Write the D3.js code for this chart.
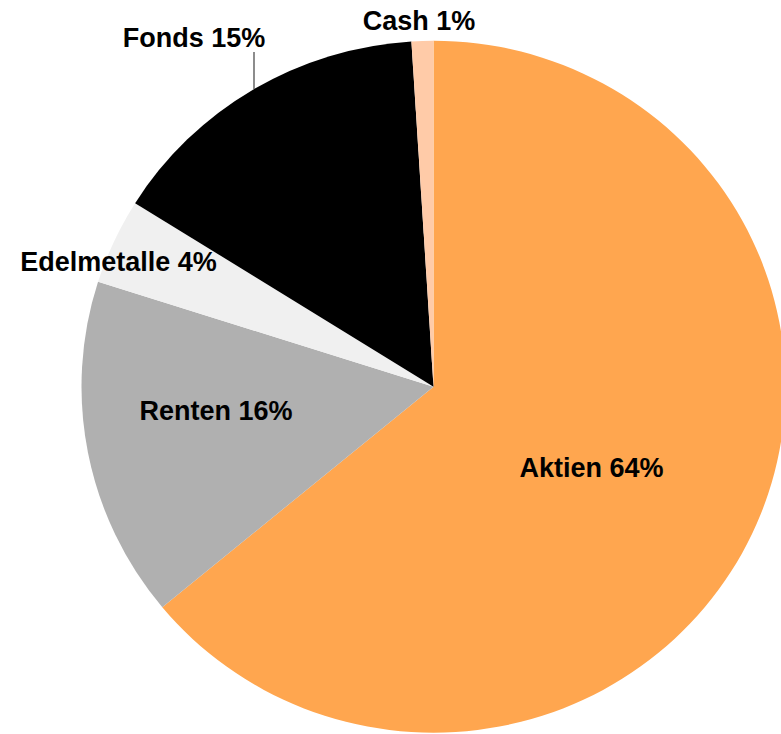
<!DOCTYPE html>
<html>
<head>
<meta charset="utf-8">
<script src="https://cdn.jsdelivr.net/npm/d3@7"></script>
<style>
  html, body { margin: 0; padding: 0; background: #fff; }
  svg { display: block; }
</style>
</head>
<body>
<svg id="chart"></svg>
<script>
// Data
const categories = ["Aktien", "Renten", "Edelmetalle", "Fonds", "Cash"];
const values = [64.0, 15.9, 4.0, 15.1, 1.0];
const labels = ["Aktien 64%", "Renten 16%", "Edelmetalle 4%", "Fonds 15%", "Cash 1%"];

const colors = ["#FFA64F", "#B0B0B0", "#F0F0F0", "#000000", "#FFCBA8"];

const W = 781, H = 734;
const cx = 433.5, cy = 386.7;
const R = 352, ry = 346;

// label anchor points (centre x, baseline y), as Excel placed them
const labelPos = {
  "Aktien": [591.5, 476.5],
  "Renten": [216, 419.5],
  "Edelmetalle": [118.5, 270.5],
  "Fonds": [194, 46.5],
  "Cash": [419, 30]
};

const svg = d3.select("#chart").attr("width", W).attr("height", H);

const color = d3.scaleOrdinal().domain(categories).range(colors);

const pie = d3.pie().sort(null).value(d => d.v);
const arcs = pie(categories.map((c, i) => ({ c, v: values[i] })));
const arc = d3.arc().innerRadius(0).outerRadius(R);

const g = svg.append("g")
  .attr("transform", `translate(${cx},${cy}) scale(1,${ry / R})`);

g.selectAll("path")
  .data(arcs).join("path")
  .attr("d", arc)
  .attr("fill", d => color(d.data.c));

// leader line for Fonds
svg.append("line")
  .attr("x1", 254).attr("x2", 254)
  .attr("y1", 52).attr("y2", 89)
  .attr("stroke", "#404040").attr("stroke-width", 1.2);

svg.append("g").selectAll("text")
  .data(categories).join("text")
  .attr("x", d => labelPos[d][0])
  .attr("y", d => labelPos[d][1])
  .attr("text-anchor", "middle")
  .style("font-family", "'Liberation Sans', Arial, sans-serif")
  .style("font-weight", "bold")
  .style("font-size", "27px")
  .style("fill", "#000")
  .text((d, i) => labels[i]);
</script>
</body>
</html>
